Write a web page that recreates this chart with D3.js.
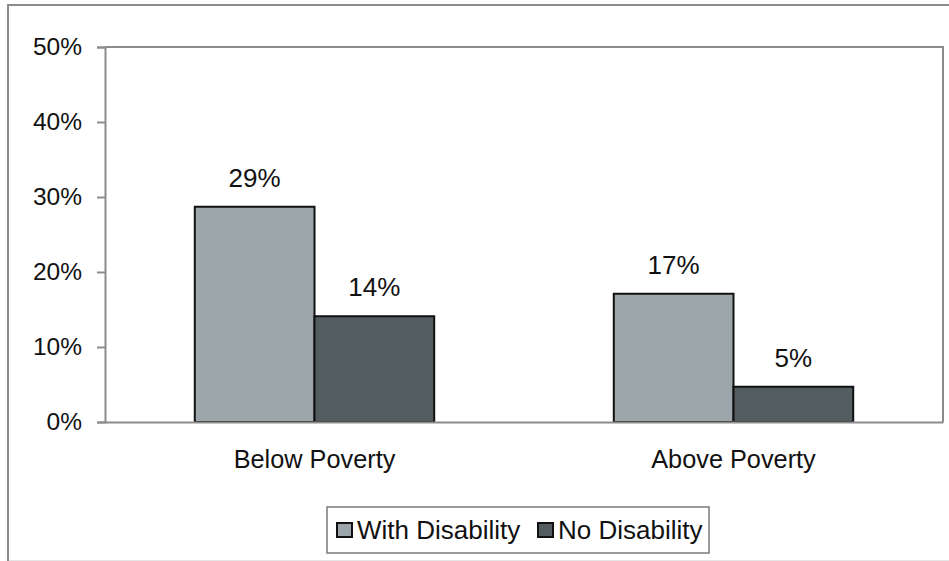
<!DOCTYPE html>
<html>
<head>
<meta charset="utf-8">
<script src="https://cdn.jsdelivr.net/npm/d3@7"></script>
<style>
  html, body { margin: 0; padding: 0; background: #fff; }
  svg { display: block; }
  text { font-family: "Liberation Sans", Arial, sans-serif; fill: #111; }
</style>
</head>
<body>
<svg id="chart" width="949" height="561"></svg>
<script>
const categories = ["Below Poverty", "Above Poverty"];
const seriesNames = ["With Disability", "No Disability"];
const withDisability = [28.7, 17.1];
const noDisability = [14.1, 4.7];
const valueLabels = [["29%", "14%"], ["17%", "5%"]];
const yTicks = [0, 10, 20, 30, 40, 50];
const colors = ["#9ca5aa", "#535c5e"];

const svg = d3.select("#chart");
const W = 949, H = 561;
const plot = { left: 105, right: 943, top: 47, bottom: 422 };

// outer frame
svg.append("rect")
  .attr("x", 8).attr("y", 5)
  .attr("width", W + 10).attr("height", H + 10)
  .attr("fill", "#fff").attr("stroke", "#8c8c8c").attr("stroke-width", 2);
svg.append("line").attr("x1", 9).attr("x2", W).attr("y1", 560.5).attr("y2", 560.5)
  .attr("stroke", "#e4e4e4").attr("stroke-width", 1);

const x0 = d3.scaleBand().domain(categories).range([plot.left, plot.right]).paddingInner(0).paddingOuter(0);
const y = d3.scaleLinear().domain([0, 50]).range([plot.bottom, plot.top]);

// plot border (top & right)
svg.append("path")
  .attr("d", `M${plot.left},${plot.top}H${plot.right}V${plot.bottom}`)
  .attr("fill", "none").attr("stroke", "#8c8c8c").attr("stroke-width", 2);

const data = categories.map((c, i) => ({ cat: c, values: [withDisability[i], noDisability[i]], labels: valueLabels[i] }));

const bw = x0.bandwidth() / 3.5;
const x1 = d3.scaleBand().domain(seriesNames).range([0, 2 * bw]);

const g = svg.append("g");
data.forEach(d => {
  const gx = x0(d.cat) + (x0.bandwidth() - 2 * bw) / 2;
  seriesNames.forEach((s, j) => {
    const v = d.values[j];
    g.append("rect")
      .attr("x", gx + x1(s)).attr("y", y(v))
      .attr("width", x1.bandwidth()).attr("height", y(0) - y(v))
      .attr("fill", colors[j]).attr("stroke", "#111").attr("stroke-width", 2);
    g.append("text")
      .attr("x", gx + x1(s) + x1.bandwidth() / 2)
      .attr("y", y(v) - 20)
      .attr("text-anchor", "middle")
      .attr("font-size", 26)
      .text(d.labels[j]);
  });
});

// y axis
const yAxis = d3.axisLeft(y).tickValues(yTicks).tickFormat(d => d + "%").tickSize(8).tickPadding(15);
const ya = svg.append("g").attr("transform", `translate(${plot.left},0)`).call(yAxis);
ya.select(".domain").attr("stroke", "#8c8c8c").attr("stroke-width", 2);
ya.selectAll(".tick line").attr("stroke", "#8c8c8c").attr("stroke-width", 2);
ya.selectAll(".tick text").attr("font-size", 24.5).attr("fill", "#111")
  .attr("font-family", "Liberation Sans, Arial, sans-serif");

// x axis
const xAxis = d3.axisBottom(x0).tickSize(0).tickPadding(0);
const xa = svg.append("g").attr("transform", `translate(0,${plot.bottom})`).call(xAxis);
xa.select(".domain").attr("stroke", "#8c8c8c").attr("stroke-width", 2);
xa.selectAll(".tick text").attr("font-size", 25.3).attr("fill", "#111")
  .attr("font-family", "Liberation Sans, Arial, sans-serif")
  .attr("dy", null).attr("y", 46);

// legend
const lg = svg.append("g");
lg.append("rect").attr("x", 327).attr("y", 507).attr("width", 382).attr("height", 46)
  .attr("fill", "#fff").attr("stroke", "#7a7a7a").attr("stroke-width", 1.5);
const legendX = [337, 538];
seriesNames.forEach((s, j) => {
  lg.append("rect").attr("x", legendX[j]).attr("y", 523).attr("width", 15).attr("height", 14)
    .attr("fill", colors[j]).attr("stroke", "#111").attr("stroke-width", 2);
  lg.append("text").attr("x", legendX[j] + 20).attr("y", 539)
    .attr("font-size", 26).text(s);
});
</script>
</body>
</html>
